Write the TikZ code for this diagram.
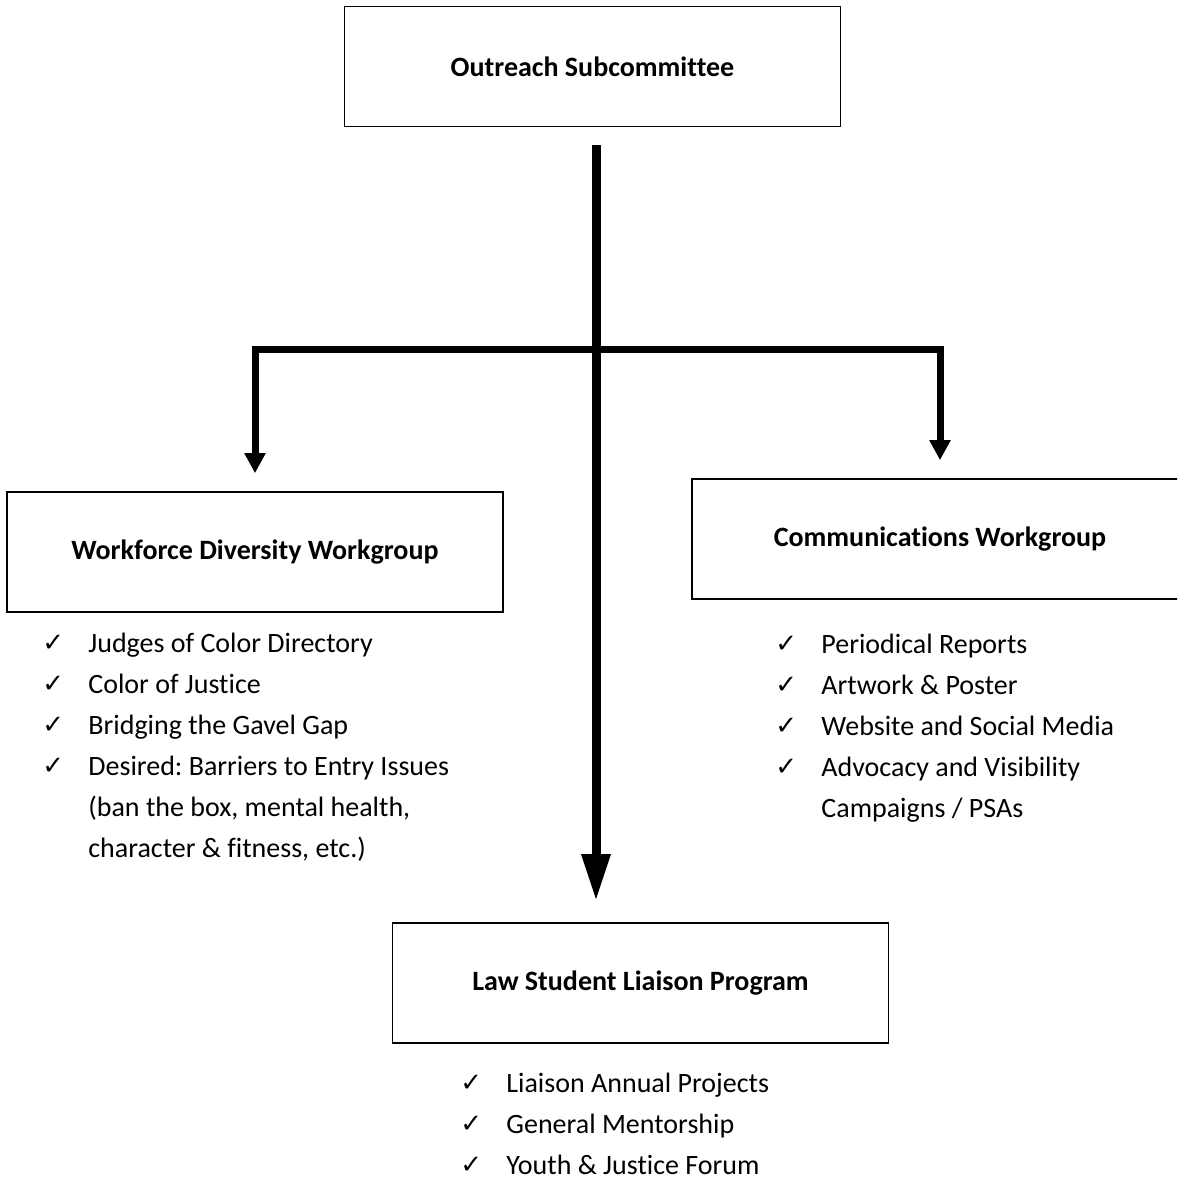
\documentclass[tikz,border=0pt]{standalone}
\usepackage{fontspec}
\setmainfont{Carlito}[Ligatures=NoCommon]
\newfontfamily\tickfont{DejaVu Sans}
\usetikzlibrary{arrows.meta,positioning}
\frenchspacing
\newcommand{\tick}{\makebox[23pt][l]{\raisebox{0.5pt}{\tickfont\fontsize{13}{13}\selectfont ✓}}}
\newcommand{\gap}{\hspace*{23pt}}

\begin{document}
\begin{tikzpicture}[
    x=0.5pt, y=-0.5pt,
    unit/.style={rectangle, draw, line width=0.8pt, minimum width=248pt, minimum height=60pt, inner sep=0pt, align=center, font=\fontsize{14}{17}\selectfont\bfseries},
    items/.style={anchor=north west, inner sep=0pt, font=\fontsize{14}{20.5}\selectfont},
    branch/.style={line width=3.5pt, -{Triangle[width=10pt,length=10pt]}, shorten >=9pt},
    trunk/.style={line width=4.5pt, -{Triangle[width=13.5pt,length=23.5pt]}}
  ]
    \useasboundingbox (0,0) rectangle (1177,1181);
    \clip (0,0) rectangle (1177,1181);
    \node[unit] (outreach) at (592.5,66.5) {Outreach Subcommittee};
    \node[unit] (wdw) at (255,552) {Workforce Diversity Workgroup};
    \node[unit] (comm) at (940,539) {Communications Workgroup};
    \node[unit] (law) at (640.5,983) {Law Student Liaison Program};
    \coordinate (hub) at (596,350);
    \node[items] (wdwlist) at (42,623) {\begin{tabular}{@{}l@{}}
      \tick Judges of Color Directory\\
      \tick Color of Justice\\
      \tick Bridging the Gavel Gap\\
      \tick Desired: Barriers to Entry Issues\\
      \gap(ban the box, mental health,\\
      \gap character \& fitness, etc.)
    \end{tabular}};
    \node[items] (commlist) at (775,624) {\begin{tabular}{@{}l@{}}
      \tick Periodical Reports\\
      \tick Artwork \& Poster\\
      \tick Website and Social Media\\
      \tick Advocacy and Visibility\\
      \gap Campaigns / PSAs
    \end{tabular}};
    \node[items] (lawlist) at (460,1063) {\begin{tabular}{@{}l@{}}
      \tick Liaison Annual Projects\\
      \tick General Mentorship\\
      \tick Youth \& Justice Forum
    \end{tabular}};
    \draw[branch] (hub) -| (wdw.north);
    \draw[branch] (hub) -| (comm.north);
    \draw[trunk, shorten <=9pt, shorten >=10.5pt] (outreach.south -| hub) -- (law.north -| hub);
  \end{tikzpicture}
\end{document}
